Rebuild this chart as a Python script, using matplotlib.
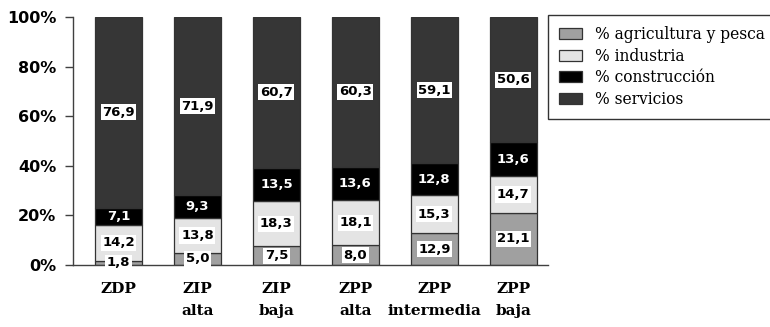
import matplotlib
matplotlib.use("Agg")
import matplotlib.pyplot as plt
from matplotlib.patches import Patch
import numpy as np

categories = ["ZDP", "ZIP\nalta", "ZIP\nbaja", "ZPP\nalta", "ZPP\nintermedia", "ZPP\nbaja"]
agricultura = [1.8, 5.0, 7.5, 8.0, 12.9, 21.1]
industria = [14.2, 13.8, 18.3, 18.1, 15.3, 14.7]
construccion = [7.1, 9.3, 13.5, 13.6, 12.8, 13.6]
servicios = [76.9, 71.9, 60.7, 60.3, 59.1, 50.6]
series_names = ["% agricultura y pesca", "% industria", "% construcción", "% servicios"]
colors = ["#a0a0a0", "#e4e4e4", "#000000", "#363636"]
yticks = [0, 20, 40, 60, 80, 100]

series = [agricultura, industria, construccion, servicios]

fig = plt.figure(figsize=(7.7, 3.27), dpi=100)
ax = fig.add_axes([0.0948, 0.1896, 0.617, 0.7584])

x = np.arange(len(categories))
bottom = np.zeros(len(categories))
for vals, col in zip(series, colors):
    vals = np.array(vals)
    ax.bar(x, vals, width=0.595, bottom=bottom, color=col,
           edgecolor="#333333", linewidth=0.9, zorder=2)
    for xi, b, v in zip(x, bottom, vals):
        label = f"{v:.1f}".replace(".", ",")
        if col == "#000000":
            ax.text(xi, b + v / 2, label, ha="center", va="center",
                    fontsize=9.5, fontweight="bold", color="white",
                    family="DejaVu Sans", zorder=4)
        else:
            ax.text(xi, b + v / 2, label, ha="center", va="center",
                    fontsize=9.5, fontweight="bold", color="black",
                    family="DejaVu Sans", zorder=4,
                    bbox=dict(boxstyle="square,pad=0.12", fc="white", ec="none"))
    bottom += vals

ax.set_xlim(-0.576, 5.44)
ax.set_ylim(0, 100)
ax.set_yticks(yticks)
ax.set_yticklabels([f"{t}%" for t in yticks], fontsize=11.5, fontweight="bold",
                   family="DejaVu Sans")
ax.set_xticks(x)
ax.set_xticklabels(categories, fontsize=11, fontweight="bold", family="DejaVu Serif",
                   linespacing=1.75)
ax.tick_params(axis="x", length=0, pad=12)
ax.tick_params(axis="y", direction="out", length=6, width=1, color="#404040", pad=6)
for s in ["top", "right"]:
    ax.spines[s].set_visible(False)
for s in ["left", "bottom"]:
    ax.spines[s].set_color("#404040")
    ax.spines[s].set_linewidth(1)

handles = [Patch(facecolor=c, edgecolor="#333333", linewidth=0.9) for c in colors]
leg = fig.legend(handles, series_names, loc="upper left",
                 bbox_to_anchor=(548 / 770, 1 - 15 / 327),
                 frameon=True, fancybox=False, edgecolor="black",
                 prop={"family": "DejaVu Serif", "size": 11.2},
                 handlelength=1.5, handleheight=0.7, handletextpad=0.8,
                 labelspacing=0.3, borderpad=0.7, borderaxespad=0)
leg.get_frame().set_linewidth(1)

fig.savefig("out.png", dpi=100)
